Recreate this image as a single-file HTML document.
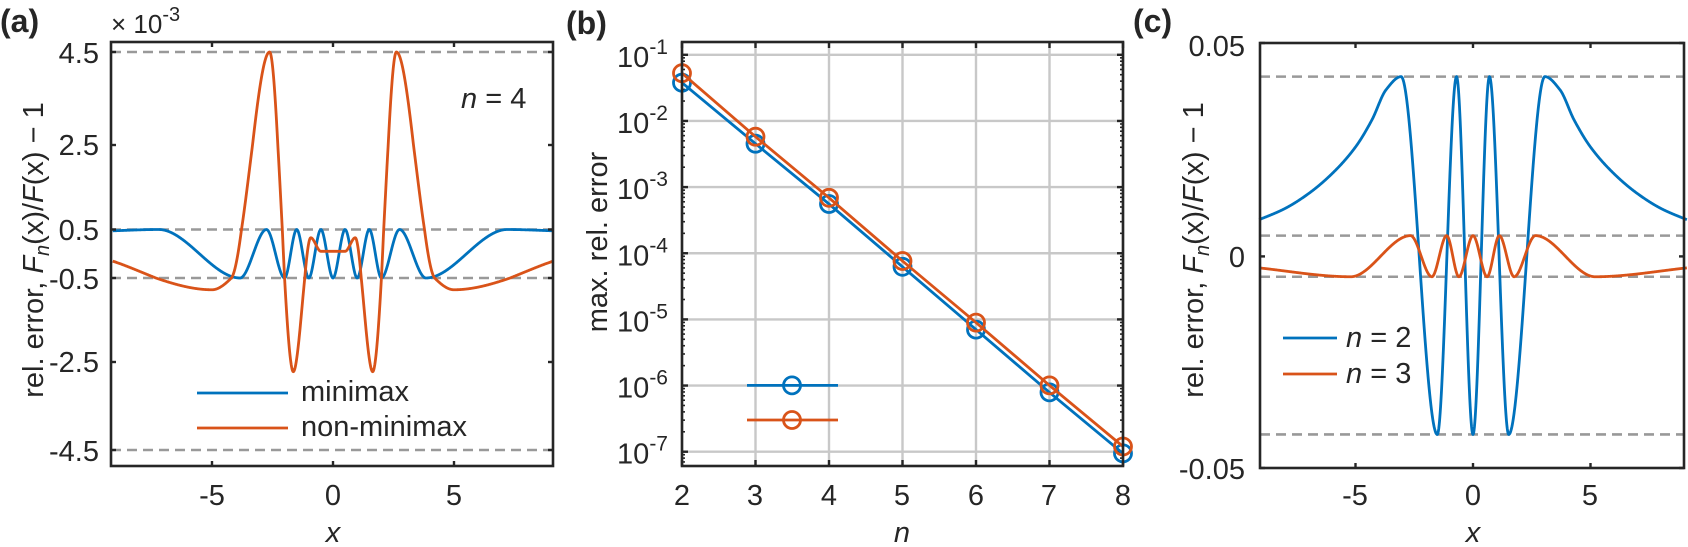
<!DOCTYPE html>
<html><head><meta charset="utf-8">
<style>
html,body{margin:0;padding:0;background:#fff;}
svg{display:block;font-family:"Liberation Sans",Arial,sans-serif;}
text{fill:#262626;}
</style></head>
<body>
<svg id="s" width="1688" height="547" viewBox="0 0 1688 547" xmlns="http://www.w3.org/2000/svg">
<rect width="1688" height="547" fill="#fff"/>
<g id="g"></g>
<text x="0" y="32" font-size="32" font-weight="bold">(a)</text>
<text x="566" y="34" font-size="32" font-weight="bold">(b)</text>
<text x="1133" y="32" font-size="32" font-weight="bold">(c)</text>
<text x="111" y="33" font-size="26">× 10<tspan dy="-12" font-size="20">-3</tspan></text>

<g font-size="29" text-anchor="end">
<text x="99" y="63">4.5</text>
<text x="99" y="155">2.5</text>
<text x="99" y="240">0.5</text>
<text x="99" y="289">-0.5</text>
<text x="99" y="372">-2.5</text>
<text x="99" y="461">-4.5</text>
</g>
<g font-size="29" text-anchor="middle">
<text x="212" y="505">-5</text><text x="333" y="505">0</text><text x="454" y="505">5</text>
<text x="333" y="542" font-style="italic">x</text>
<text x="902" y="542" font-style="italic">n</text>
<text x="1473" y="542" font-style="italic">x</text>
<text x="682" y="505">2</text><text x="755" y="505">3</text><text x="829" y="505">4</text><text x="902" y="505">5</text><text x="976" y="505">6</text><text x="1049" y="505">7</text><text x="1123" y="505">8</text>
<text x="1355" y="505">-5</text><text x="1473" y="505">0</text><text x="1590" y="505">5</text>
</g>
<text x="461" y="108" font-size="29"><tspan font-style="italic">n</tspan> = 4</text>
<g font-size="29">
<text x="301" y="401">minimax</text>
<text x="301" y="436">non-minimax</text>
<text x="1346" y="347"><tspan font-style="italic">n</tspan> = 2</text>
<text x="1346" y="383"><tspan font-style="italic">n</tspan> = 3</text>
</g>
<text transform="translate(43,250) rotate(-90)" font-size="29" text-anchor="middle">rel. error, <tspan font-style="italic">F</tspan><tspan font-style="italic" font-size="20" dy="6">n</tspan><tspan dy="-6">(x)/</tspan><tspan font-style="italic">F</tspan>(x) − 1</text>
<text transform="translate(1203,250) rotate(-90)" font-size="29" text-anchor="middle">rel. error, <tspan font-style="italic">F</tspan><tspan font-style="italic" font-size="20" dy="6">n</tspan><tspan dy="-6">(x)/</tspan><tspan font-style="italic">F</tspan>(x) − 1</text>
<text transform="translate(607,242) rotate(-90)" font-size="29" text-anchor="middle">max. rel. error</text>
<g font-size="29" text-anchor="end">
<text x="1245" y="56">0.05</text>
<text x="1245" y="267">0</text>
<text x="1245" y="479">-0.05</text>
</g>
<g id="blbl" font-size="29"></g>
</svg>
<script>
var NS="http://www.w3.org/2000/svg",G=document.getElementById('g');
function el(t,a){var e=document.createElementNS(NS,t);for(var k in a)e.setAttribute(k,a[k]);G.appendChild(e);return e;}
function mono(P){
 var n=P.length,xs=P.map(p=>p[0]),ys=P.map(p=>p[1]),d=[],m=[];
 for(var i=0;i<n-1;i++)d.push((ys[i+1]-ys[i])/(xs[i+1]-xs[i]));
 m[0]=d[0];m[n-1]=d[n-2];
 for(i=1;i<n-1;i++){ if(d[i-1]*d[i]<=0)m[i]=0; else {var h0=xs[i]-xs[i-1],h1=xs[i+1]-xs[i];var w1=2*h1+h0,w2=h1+2*h0;m[i]=(w1+w2)/(w1/d[i-1]+w2/d[i]);}}
 return function(x){var i=0;while(i<n-2&&x>xs[i+1])i++;var h=xs[i+1]-xs[i],t=(x-xs[i])/h;var t2=t*t,t3=t2*t;
  return (2*t3-3*t2+1)*ys[i]+(t3-2*t2+t)*h*m[i]+(-2*t3+3*t2)*ys[i+1]+(t3-t2)*h*m[i+1];};
}
function sym(L){var R=L.slice();for(var i=L.length-1;i>=0;i--){if(L[i][0]!==0)R.push([-L[i][0],L[i][1]]);}return R;}
var LW=2.8;
function curve(P,x0,x1,X,Y,col){var f=mono(P),s="";for(var i=0;i<=1200;i++){var x=x0+(x1-x0)*i/1200;s+=(i?"L":"M")+X(x).toFixed(2)+","+Y(f(x)).toFixed(2);}el('path',{d:s,fill:'none',stroke:col,'stroke-width':LW,'stroke-linejoin':'round'});}
var BL="#0072BD",OR="#D95319",AX="#262626";
function dash(x0,x1,y){el('line',{x1:x0,x2:x1,y1:y,y2:y,stroke:"#999",'stroke-width':2.6,'stroke-dasharray':'10,6'});}
function box(l,t,r,b){el('rect',{x:l,y:t,width:r-l,height:b-t,fill:'none',stroke:AX,'stroke-width':2.6});}
var aL=111,aR=553,aT=42,aB=466;
var Xa=x=>333+x*24.2;
var tv=[-4.5,-2.5,-0.5,0.5,2.5,4.5],tp=[450,362,278,229.5,145,52];
function Ya(v){var i=0;if(v<tv[0])return tp[0]+(tv[0]-v)*44;if(v>tv[5])return tp[5]-(v-tv[5])*46;while(i<4&&v>tv[i+1])i++;return tp[i]+(v-tv[i])*(tp[i+1]-tp[i])/(tv[i+1]-tv[i]);}
dash(aL,aR,Ya(4.5));dash(aL,aR,Ya(0.5));dash(aL,aR,Ya(-0.5));dash(aL,aR,Ya(-4.5));
curve(sym([[-9.3,0.47],[-7.2,0.5],[-3.84,-0.5],[-2.75,0.5],[-2.0,-0.5],[-1.5,0.5],[-1.0,-0.5],[-0.5,0.5],[0,-0.5]]),-9.1,9.1,Xa,Ya,BL);
curve(sym([[-9.3,-0.12],[-5.0,-0.78],[-4.2,-0.5],[-2.62,4.5],[-1.64,-2.72],[-0.92,0.33],[-0.5,0.05],[0,0.05]]),-9.1,9.1,Xa,Ya,OR);
el('line',{x1:197,x2:288,y1:393,y2:393,stroke:BL,'stroke-width':LW});
el('line',{x1:197,x2:288,y1:428,y2:428,stroke:OR,'stroke-width':LW});
tp.forEach(y=>{el('line',{x1:aL,x2:aL+5,y1:y,y2:y,stroke:AX,'stroke-width':2.4});el('line',{x1:aR,x2:aR-5,y1:y,y2:y,stroke:AX,'stroke-width':2.4});});
[-5,0,5].forEach(x=>{el('line',{x1:Xa(x),x2:Xa(x),y1:aB,y2:aB-5,stroke:AX,'stroke-width':2.4});el('line',{x1:Xa(x),x2:Xa(x),y1:aT,y2:aT+5,stroke:AX,'stroke-width':2.4});});
box(aL,aT,aR,aB);
var bL=682,bR=1123,bT=42,bB=466;
var Xb=n=>682+(n-2)*73.5, Yb=e=>54.8+(-1-e)*66.15;
for(var n=2;n<=8;n++)el('line',{x1:Xb(n),x2:Xb(n),y1:bT,y2:bB,stroke:"#c8c8c8",'stroke-width':2.4});
for(var e=-1;e>=-7;e--)el('line',{x1:bL,x2:bR,y1:Yb(e),y2:Yb(e),stroke:"#c8c8c8",'stroke-width':2.4});
for(var e=-8;e<=-1;e++)for(var k=2;k<=9;k++){var y=Yb(e+Math.log10(k));if(y>bT&&y<bB){el('line',{x1:bL,x2:bL+3,y1:y,y2:y,stroke:AX,'stroke-width':1.6});el('line',{x1:bR,x2:bR-3,y1:y,y2:y,stroke:AX,'stroke-width':1.6});}}
for(var e=-1;e>=-7;e--){el('line',{x1:bL,x2:bL+6,y1:Yb(e),y2:Yb(e),stroke:AX,'stroke-width':2.4});el('line',{x1:bR,x2:bR-6,y1:Yb(e),y2:Yb(e),stroke:AX,'stroke-width':2.4});}
for(var n=2;n<=8;n++){el('line',{x1:Xb(n),x2:Xb(n),y1:bB,y2:bB-6,stroke:AX,'stroke-width':2.4});el('line',{x1:Xb(n),x2:Xb(n),y1:bT,y2:bT+6,stroke:AX,'stroke-width':2.4});}
var by=[82.7,143.7,204,266.8,329.6,392.4,453.4],oy=[73.2,136.7,197.8,261,322.6,385.4,446.5];
function ser(Y,col){var s="";Y.forEach((y,i)=>{s+=(i?"L":"M")+Xb(i+2)+","+y;});el('path',{d:s,fill:'none',stroke:col,'stroke-width':LW});Y.forEach((y,i)=>el('circle',{cx:Xb(i+2),cy:y,r:8.5,fill:'none',stroke:col,'stroke-width':LW}));}
ser(by,BL);ser(oy,OR);
el('line',{x1:747,x2:838,y1:385.4,y2:385.4,stroke:BL,'stroke-width':LW});el('circle',{cx:792,cy:385.4,r:8.5,fill:'none',stroke:BL,'stroke-width':LW});
el('line',{x1:747,x2:838,y1:420,y2:420,stroke:OR,'stroke-width':LW});el('circle',{cx:792,cy:420,r:8.5,fill:'none',stroke:OR,'stroke-width':LW});
box(bL,bT,bR,bB);
var bl=document.getElementById('blbl');
for(var e=-1;e>=-7;e--){var t=document.createElementNS(NS,'text');t.setAttribute('x',668);t.setAttribute('y',Yb(e)+12);t.setAttribute('text-anchor','end');t.innerHTML='10<tspan dy="-13" font-size="21">'+e+'</tspan>';bl.appendChild(t);}
var cL=1260,cR=1684,cT=43,cB=468;
var Xc=x=>1473+x*23.5, Yc=v=>256.4-v*4240;
dash(cL,cR,Yc(0.0424));dash(cL,cR,Yc(0.0049));dash(cL,cR,Yc(-0.0048));dash(cL,cR,Yc(-0.042));
curve(sym([[-9.3,0.0082],[-8,0.0113],[-7,0.0148],[-6,0.0195],[-5,0.0258],[-4.3,0.0322],[-3.7,0.0393],[-3.06,0.0424],[-1.52,-0.042],[-0.70,0.0424],[0,-0.042]]),-9.1,9.1,Xc,Yc,BL);
curve(sym([[-9.3,-0.0026],[-5.2,-0.0048],[-2.66,0.0049],[-1.75,-0.0048],[-1.12,0.0049],[-0.6,-0.0048],[0,0.0049]]),-9.1,9.1,Xc,Yc,OR);
el('line',{x1:1283,x2:1337,y1:338,y2:338,stroke:BL,'stroke-width':LW});
el('line',{x1:1283,x2:1337,y1:374,y2:374,stroke:OR,'stroke-width':LW});
[cT,256.4,cB].forEach(y=>{el('line',{x1:cL,x2:cL+5,y1:y,y2:y,stroke:AX,'stroke-width':2.4});el('line',{x1:cR,x2:cR-5,y1:y,y2:y,stroke:AX,'stroke-width':2.4});});
[-5,0,5].forEach(x=>{el('line',{x1:Xc(x),x2:Xc(x),y1:cB,y2:cB-5,stroke:AX,'stroke-width':2.4});el('line',{x1:Xc(x),x2:Xc(x),y1:cT,y2:cT+5,stroke:AX,'stroke-width':2.4});});
box(cL,cT,cR,cB);
</script>
</body></html>
